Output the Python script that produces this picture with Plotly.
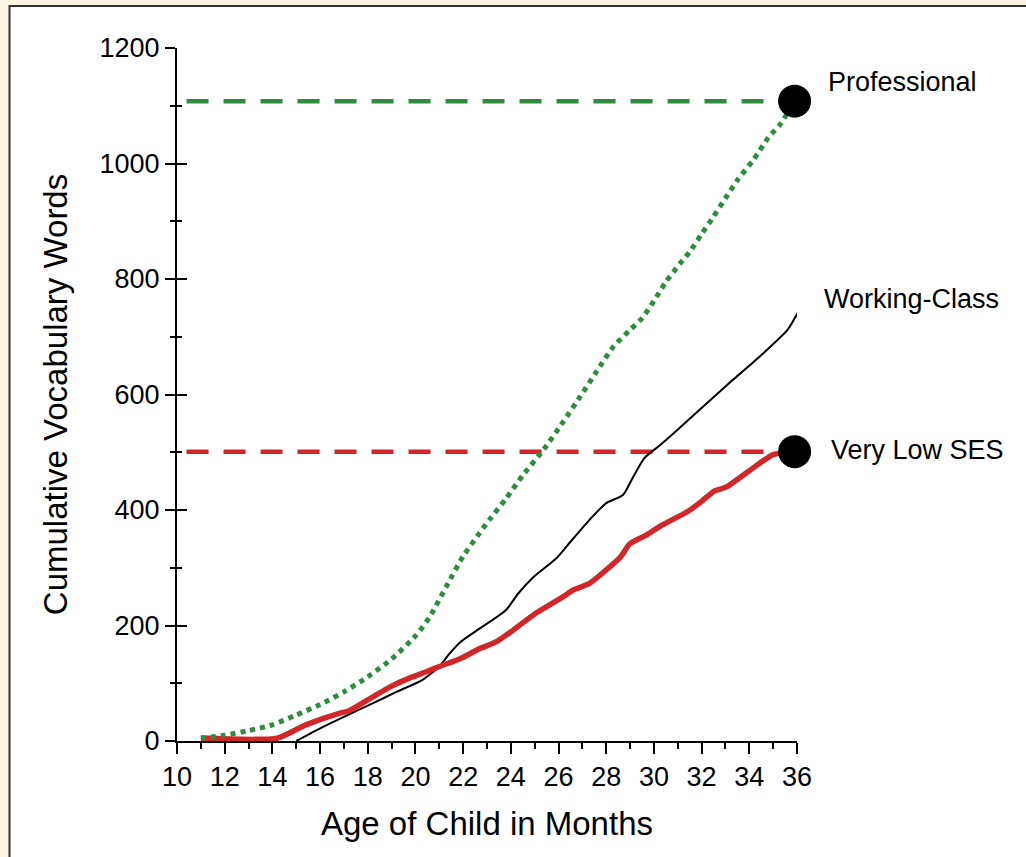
import plotly.graph_objects as go

# ---- data ----
prof_months = [11, 12, 13, 14, 15, 16, 17, 18, 19, 20, 20.6, 21.3, 22, 22.6, 23.1, 23.8,
               24.5, 25.4, 26.2, 26.9, 27.6, 28.3, 29.0, 29.5, 30.0, 30.5, 31.1, 31.5,
               32.0, 32.5, 33.0, 33.5, 34.2, 34.8, 35.3, 35.9]
prof_words = [5, 10, 18, 28, 45, 63, 85, 111, 142, 182, 215, 268, 320, 355, 383, 420,
              460, 506, 553, 596, 640, 683, 712, 732, 762, 795, 827, 847,
              878, 908, 940, 971, 1008, 1045, 1068, 1108]

work_months = [15, 16, 16.8, 18.2, 19.2, 20.3, 21.0, 21.4, 21.9, 22.7, 23.8, 24.3, 24.95,
               25.9, 26.5, 27.3, 28.0, 28.7, 29.1, 29.6, 30.25, 30.7, 31.5, 32.3, 33.3,
               34.2, 35.6, 36.05]
work_words = [0, 22, 38, 65, 85, 106, 129, 150, 172, 195, 227, 255, 284,
              316, 345, 383, 412, 426, 455, 490, 512, 528, 558, 588, 625,
              657, 712, 743]

low_months = [11, 14.2, 15.4, 16.8, 17.2, 18.2, 19.0, 19.7, 20.4, 21.0, 21.9, 22.7, 23.4,
              24.1, 25.0, 26.2, 26.6, 27.3, 28.6, 29.0, 29.7, 30.3, 31.4, 32.0, 32.5,
              33.05, 34.0, 35.0, 35.9]
low_words = [5, 5, 28, 48, 52, 76, 95, 108, 119, 129, 143, 160, 172,
             192, 220, 250, 261, 273, 319, 342, 357, 373, 397, 415, 432,
             440, 468, 496, 501]

ref_start = 10.4
end_month = [35.9, 35.9]
end_words = [1108, 501]
group_labels = ["Professional", "Working-Class", "Very Low SES"]
label_x = [37.22, 37.05, 37.34]
label_y = [1141, 765, 504]

x_range = [10, 36]
y_range = [0, 1200]
x_ticks = list(range(10, 37, 2))
y_ticks = list(range(0, 1201, 200))

GREEN = "#2E8B3F"
RED = "#D3262B"
CREAM = "#FCF3E2"
FONT = "Liberation Sans, Arial, Helvetica, sans-serif"

fig = go.Figure()

# dashed reference lines
fig.add_trace(go.Scatter(x=[ref_start, end_month[0]], y=[end_words[0]] * 2, mode="lines",
                         line=dict(color=GREEN, width=4.5, dash="22px,15px"),
                         hoverinfo="skip", showlegend=False, cliponaxis=False))
fig.add_trace(go.Scatter(x=[ref_start, end_month[1]], y=[end_words[1]] * 2, mode="lines",
                         line=dict(color=RED, width=4.5, dash="22px,15px"),
                         hoverinfo="skip", showlegend=False, cliponaxis=False))

# curves
fig.add_trace(go.Scatter(x=work_months, y=work_words, mode="lines", name=group_labels[1],
                         line=dict(color="black", width=2, shape="spline", smoothing=0.6),
                         showlegend=False, cliponaxis=False))
fig.add_trace(go.Scatter(x=low_months, y=low_words, mode="lines", name=group_labels[2],
                         line=dict(color=RED, width=5.5, shape="spline", smoothing=0.6),
                         showlegend=False, cliponaxis=False))
fig.add_trace(go.Scatter(x=prof_months, y=prof_words, mode="lines", name=group_labels[0],
                         line=dict(color=GREEN, width=5, dash="dot", shape="spline", smoothing=0.6),
                         showlegend=False, cliponaxis=False))

# end markers
fig.add_trace(go.Scatter(x=end_month, y=end_words, mode="markers",
                         marker=dict(color="black", size=33),
                         showlegend=False, hoverinfo="skip", cliponaxis=False))

# helper trace for the inner half of the crossing y ticks
fig.add_trace(go.Scatter(x=[None], y=[None], yaxis="y2", showlegend=False, hoverinfo="skip"))

for txt, lx, ly in zip(group_labels, label_x, label_y):
    fig.add_annotation(x=(lx - x_range[0]) / (x_range[1] - x_range[0]),
                       y=(ly - y_range[0]) / (y_range[1] - y_range[0]),
                       xref="paper", yref="paper", text=txt, showarrow=False,
                       xanchor="left", yanchor="middle",
                       font=dict(family=FONT, size=27, color="black"))

# white panel with border on cream background
fig.add_shape(type="rect", xref="paper", yref="paper",
              x0=(9.5 - 177) / 620, x1=(1060 - 177) / 620,
              y0=(741 - 900) / 693, y1=(741 - 6) / 693,
              line=dict(color="#333333", width=2), fillcolor="white", layer="below")

fig.update_layout(
    width=1026, height=857,
    margin=dict(l=177, r=229, t=48, b=116),
    paper_bgcolor=CREAM, plot_bgcolor="white",
    font=dict(family=FONT, color="black"),
    xaxis=dict(range=x_range, tickvals=x_ticks, ticks="outside", ticklen=11, tickwidth=2,
               tickcolor="black", showline=True, linecolor="black", linewidth=2,
               showgrid=False, zeroline=False, tickfont=dict(size=27),
               minor=dict(dtick=1, tick0=10, ticks="outside", ticklen=6, tickwidth=1.5,
                          tickcolor="black", showgrid=False),
               title=dict(text="Age of Child in Months", font=dict(size=33), standoff=20)),
    yaxis=dict(range=y_range, tickvals=y_ticks, ticks="outside", ticklen=10, tickwidth=2,
               tickcolor="black", showline=True, linecolor="black", linewidth=2,
               showgrid=False, zeroline=False, tickfont=dict(size=27),
               minor=dict(dtick=100, tick0=0, ticks="outside", ticklen=5, tickwidth=1.5,
                          tickcolor="black", showgrid=False),
               title=dict(text="Cumulative Vocabulary Words", font=dict(size=33), standoff=22)),
    yaxis2=dict(range=y_range, overlaying="y", side="left", tickvals=y_ticks,
                ticks="inside", ticklen=10, tickwidth=2, tickcolor="black",
                showticklabels=False, showgrid=False, zeroline=False, showline=False,
                minor=dict(dtick=100, tick0=0, ticks="inside", ticklen=5, tickwidth=1.5,
                           tickcolor="black", showgrid=False)),
)

fig.write_html(
    "out.html",
    config={"displayModeBar": False},
    post_script="document.body.style.margin='0';document.body.style.background='" + CREAM + "';",
)
